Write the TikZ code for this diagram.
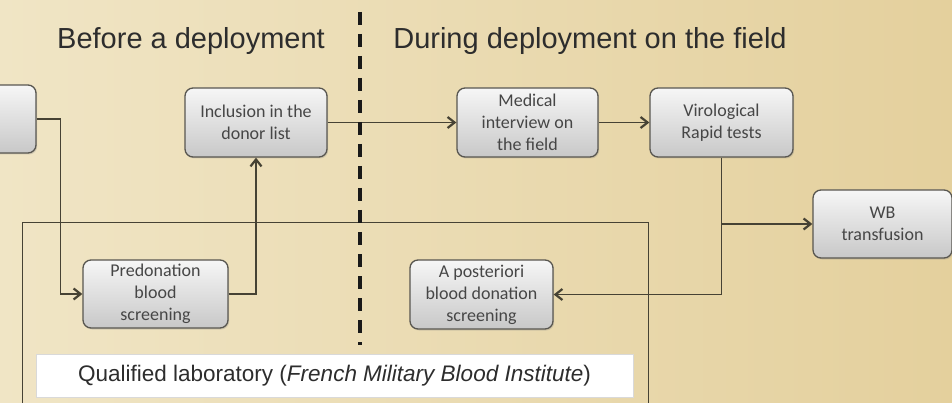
\documentclass[tikz,border=0pt]{standalone}
\usepackage{fontspec}
\setmainfont{Liberation Sans}
\newfontfamily\boxfont{Carlito}
\usetikzlibrary{arrows.meta,shadows}
\definecolor{bgl}{RGB}{240,229,197}
\definecolor{bgr}{RGB}{228,208,157}
\definecolor{boxtop}{RGB}{246,246,246}
\definecolor{boxbot}{RGB}{200,200,200}
\definecolor{boxborder}{RGB}{88,86,80}
\definecolor{linec}{RGB}{70,66,52}
\definecolor{txtc}{RGB}{45,45,45}
\definecolor{boxtxt}{RGB}{70,70,70}
\begin{document}
\begin{tikzpicture}[x=1pt,y=-1pt,
  box/.style={draw=boxborder, line width=1.3pt, rounded corners=8pt,
    top color=boxtop, bottom color=boxbot, align=center, text=boxtxt,
    font=\boxfont\fontsize{18}{22}\selectfont, inner sep=2pt,
    drop shadow={opacity=0.25, shadow xshift=1.2pt, shadow yshift=-1.5pt}},
  conn/.style={draw=linec, line width=1.4pt},
  arr/.style={conn, -{Straight Barb[length=7pt,width=11pt,line width=2.2pt]}},
  title/.style={anchor=base, text=txtc, font=\fontsize{29}{34}\selectfont}]
\useasboundingbox (0,0) rectangle (952,403);
\begin{scope}
\clip (0,0) rectangle (952,403);
\fill[left color=bgl, right color=bgr] (0,0) rectangle (952,403);
% titles
\node[title] (t1) at (191,49) {Before a deployment};
\node[title] (t2) at (590,49) {During deployment on the field};
% large laboratory frame
\draw[draw=linec, line width=1.8pt] (22.5,420) -- (22.5,222.5) -- (648.5,222.5) -- (648.5,420);
% nodes
\node[box, minimum width=136pt, minimum height=68pt] (left) at (-32,119) {};
\node[box, minimum width=142pt, minimum height=69pt] (incl) at (256,122.5) {Inclusion in the\\donor list};
\node[box, minimum width=141pt, minimum height=69pt] (med) at (527.5,122.5) {Medical\\interview on\\the field};
\node[box, minimum width=143pt, minimum height=69pt] (viro) at (721.5,122.5) {Virological\\Rapid tests};
\node[box, minimum width=139pt, minimum height=68pt] (wb) at (882.5,224) {WB\\transfusion};
\node[box, minimum width=145pt, minimum height=68pt] (pre) at (155.5,294) {Predonation\\blood\\screening};
\node[box, minimum width=143pt, minimum height=69pt] (apost) at (481.5,294.5) {A posteriori\\blood donation\\screening};
\node[fill=white, draw=white!85!black, line width=0.6pt, minimum width=597pt, minimum height=43pt,
  text=txtc, font=\fontsize{22.5}{26}\selectfont] (lab) at (334.5,375.5)
  {Qualified laboratory (\textit{French Military Blood Institute})};
% connectors
\draw[arr] (left.east) -- ++(24,0) |- (pre.west);
\draw[arr] (pre.east) -| (incl.south);
\draw[arr] (incl.east) -- (med.west);
\draw[arr] (med.east) -- (viro.west);
\draw[arr] (viro.south) |- (apost.east);
\draw[arr] (viro.south |- wb.west) -- (wb.west);
% dashed separator
\coordinate (dtop) at (360,12);
\coordinate (dbot) at (360,345);
\draw[black!90, line width=4pt, dash pattern=on 13pt off 9pt] (dtop) -- (dbot);
\end{scope}
\end{tikzpicture}
\end{document}
